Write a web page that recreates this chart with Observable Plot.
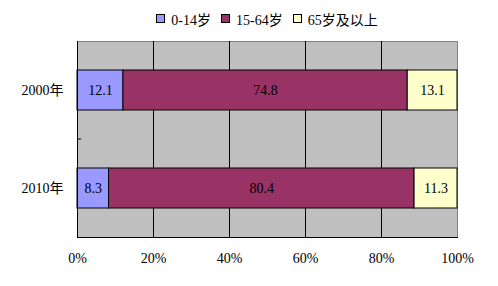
<!DOCTYPE html>
<html><head><meta charset="utf-8">
<script src="https://cdn.jsdelivr.net/npm/d3@7"></script>
<script src="https://cdn.jsdelivr.net/npm/@observablehq/plot@0.6"></script>
<style>
body{margin:0;background:#fff;font-family:"Liberation Serif","Noto Sans CJK SC",serif;}
#legend{height:32px;display:flex;align-items:center;justify-content:center;padding-left:36px;padding-top:5px;box-sizing:border-box;font-size:14px;color:#000;}
.item{display:flex;align-items:center;margin:0 5px;}
.sw{width:7px;height:7px;border:1px solid #000;margin-right:6px;}
svg{display:block;}
</style></head><body>
<div id="legend"></div><div id="chart"></div>
<script>
const years = ["2000年", "2010年"];
const groups = ["0-14岁", "15-64岁", "65岁及以上"];
const colors = ["#9999FF", "#993366", "#FFFFCC"];
const v0_14 = [12.1, 8.3];
const v15_64 = [74.8, 80.4];
const v65 = [13.1, 11.3];
const xTicks = [0, 20, 40, 60, 80, 100];

const series = [v0_14, v15_64, v65];
const rows = years.flatMap((year, i) => groups.map((g, j) => ({year, group: g, value: series[j][i]})));

const legend = document.getElementById("legend");
groups.forEach((g, j) => {
  const it = document.createElement("div"); it.className = "item";
  const sw = document.createElement("div"); sw.className = "sw"; sw.style.background = colors[j];
  const t = document.createElement("span"); t.textContent = g;
  it.append(sw, t); legend.append(it);
});

const chart = Plot.plot({
  width: 498, height: 254,
  marginTop: 9, marginBottom: 49, marginLeft: 77, marginRight: 41,
  style: {fontFamily: '"Liberation Serif","Noto Sans CJK SC",serif', fontSize: "14px", background: "white", color: "black"},
  x: {domain: [0, 100], label: null},
  y: {domain: years, paddingInner: 0.594, paddingOuter: 0.297, label: null},
  color: {domain: groups, range: colors},
  marks: [
    Plot.frame({fill: "#C0C0C0", stroke: "#808080"}),
    Plot.gridX(xTicks.slice(1, -1), {stroke: "black", strokeOpacity: 1}),
    Plot.barX(rows, {x: "value", y: "year", fill: "group", stroke: "black", order: groups}),
    Plot.text(rows, Plot.stackX({x: "value", y: "year", z: "group", order: groups, text: d => d.value.toFixed(1), fill: "black", fontSize: 14})),
    Plot.ruleX([0], {stroke: "black"}),
    Plot.frame({anchor: "bottom", stroke: "black"}),
    Plot.axisX({ticks: xTicks, tickFormat: d => d + "%", tickSize: 0, tickPadding: 16, label: null}),
    Plot.axisY({tickSize: 0, tickPadding: 14, label: null})
  ]
});
document.getElementById("chart").append(chart);

// small inward tick at the boundary between the two category bands
const ys = chart.scale("y"), xs = chart.scale("x");
const yb = ys.apply(years[0]) + ys.bandwidth + (ys.step - ys.bandwidth) / 2;
const x0 = xs.apply(0);
d3.select(chart).append("line")
  .attr("x1", x0).attr("x2", x0 + 4).attr("y1", yb).attr("y2", yb)
  .attr("stroke", "black");
</script>
</body></html>
